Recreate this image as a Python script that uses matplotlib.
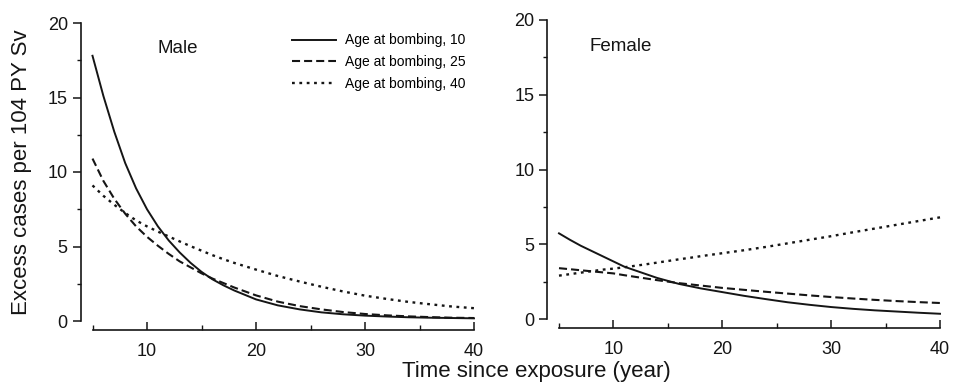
import matplotlib
matplotlib.use("Agg")
import matplotlib.pyplot as plt
from matplotlib.ticker import MultipleLocator

plt.rcParams['font.family'] = ['Liberation Sans', 'DejaVu Sans']
plt.rcParams['lines.scale_dashes'] = False

# ---- data ----
t = [5, 6, 7, 8, 9, 10, 11, 12, 13, 14, 15, 16, 17, 18, 20, 22, 24, 26, 28, 30, 32, 34, 36, 38, 40]

male_10 = [17.8, 15.1, 12.7, 10.6, 8.9, 7.5, 6.35, 5.4, 4.6, 3.9, 3.3, 2.8, 2.4, 2.05, 1.45, 1.05, 0.78,
           0.58, 0.45, 0.36, 0.3, 0.25, 0.22, 0.2, 0.18]
male_25 = [10.9, 9.4, 8.2, 7.2, 6.35, 5.65, 5.05, 4.5, 4.0, 3.6, 3.2, 2.85, 2.55, 2.25, 1.72, 1.3, 1.0,
           0.78, 0.6, 0.47, 0.38, 0.31, 0.26, 0.22, 0.2]
male_40 = [9.1, 8.4, 7.8, 7.25, 6.75, 6.35, 6.0, 5.67, 5.34, 5.02, 4.72, 4.42, 4.15, 3.9, 3.45, 3.02, 2.65,
           2.3, 1.98, 1.7, 1.48, 1.28, 1.12, 0.97, 0.86]

female_10 = [5.73, 5.3, 4.9, 4.55, 4.2, 3.85, 3.5, 3.25, 3.0, 2.75, 2.55, 2.35, 2.2, 2.05, 1.8, 1.55,
             1.33, 1.12, 0.95, 0.8, 0.68, 0.58, 0.5, 0.42, 0.35]
female_25 = [3.4, 3.33, 3.26, 3.19, 3.12, 3.05, 2.93, 2.82, 2.71, 2.6, 2.5, 2.4, 2.32, 2.24, 2.08, 1.95,
             1.82, 1.7, 1.58, 1.47, 1.37, 1.28, 1.2, 1.13, 1.07]
female_40 = [2.9, 3.0, 3.1, 3.2, 3.3, 3.37, 3.46, 3.56, 3.66, 3.77, 3.88, 3.99, 4.09, 4.2, 4.4, 4.6,
             4.82, 5.06, 5.3, 5.54, 5.8, 6.05, 6.3, 6.55, 6.8]

labels = ["Age at bombing, 10", "Age at bombing, 25", "Age at bombing, 40"]
panel_titles = ["Male", "Female"]
x_ticks = [10, 20, 30, 40]
y_ticks = [0, 5, 10, 15, 20]

# ---- figure ----
W, H = 960, 390
fig = plt.figure(figsize=(W / 100, H / 100), dpi=100)

def ax_at(x0, x1, y_top, y_bot):
    return fig.add_axes([x0 / W, 1 - y_bot / H, (x1 - x0) / W, (y_bot - y_top) / H])

axL = ax_at(92.5, 474, 23, 321)
axR = ax_at(559, 940, 20, 319)

col = '#151515'
styles = [dict(linestyle='-', lw=1.4),
          dict(linestyle=(0, (5.8, 2.9)), lw=1.5),
          dict(linestyle=(0, (2.0, 3.3)), lw=1.7)]

for ax, series, title, (tx, ty) in [
        (axL, [male_10, male_25, male_40], panel_titles[0], (11.0, 18.3)),
        (axR, [female_10, female_25, female_40], panel_titles[1], (7.8, 18.2))]:
    for s, st, lab in zip(series, styles, labels):
        ax.plot(t, s, color=col, clip_on=False, label=lab, **st)
    ax.set_xlim(5, 40)
    ax.set_ylim(0, 20)
    ax.set_facecolor('none')
    for sp in ['top', 'right']:
        ax.spines[sp].set_visible(False)
    ax.spines['left'].set_position(('outward', 8.3))
    ax.spines['bottom'].set_position(('outward', 6.5))
    ax.spines['left'].set_bounds(0, 20)
    ax.spines['bottom'].set_bounds(5, 40)
    for sp in ['left', 'bottom']:
        ax.spines[sp].set_linewidth(1.2)
        ax.spines[sp].set_color(col)
    ax.set_xticks(x_ticks)
    ax.set_yticks(y_ticks)
    ax.xaxis.set_minor_locator(MultipleLocator(5))
    ax.yaxis.set_minor_locator(MultipleLocator(2.5))
    ax.tick_params(axis='y', which='major', direction='out', length=5.5, width=1.1,
                   labelsize=13, pad=4, colors=col)
    ax.tick_params(axis='y', which='minor', direction='out', length=3, width=1.0, colors=col)
    ax.tick_params(axis='x', which='major', direction='in', length=6, width=1.1,
                   labelsize=13, pad=9, colors=col)
    ax.tick_params(axis='x', which='minor', direction='in', length=3.5, width=1.0, colors=col)
    ax.text(tx, ty, title, fontsize=13.5, ha='left', va='center', color=col)

axL.legend(loc='upper left', bbox_to_anchor=(0.522, 0.965), frameon=False, fontsize=10,
           handlelength=3.2, handletextpad=0.65, labelspacing=0.55, borderpad=0,
           borderaxespad=0)

fig.text(536 / W, 1 - 372 / H, "Time since exposure (year)", fontsize=16, ha='center',
         va='center', color=col)
fig.text(22 / W, 1 - 172 / H, "Excess cases per 104 PY Sv", fontsize=16, ha='center',
         va='center', rotation=90, color=col)

fig.savefig("out.png", dpi=100)
